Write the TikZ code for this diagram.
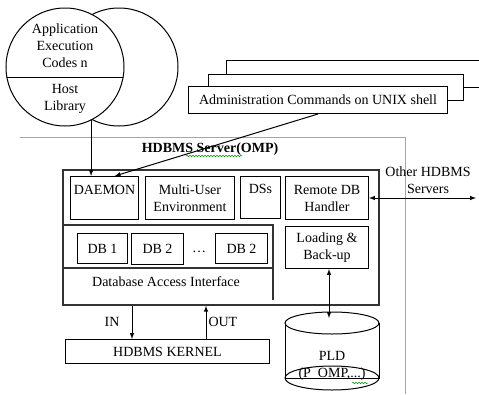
\documentclass[tikz,border=0pt]{standalone}
\usepackage{fontspec}
\setmainfont{Liberation Serif}
\usetikzlibrary{decorations.pathmorphing}

\begin{document}
\begin{tikzpicture}[x=1pt,y=-1pt,>=latex,
    font=\fontsize{14}{17}\selectfont,
    box/.style={draw,line width=1pt,fill=white,inner sep=0pt,align=center,anchor=north west},
    heavy/.style={draw=black!80,line width=1.8pt},
    spell/.style={draw=green!60!black,line width=0.5pt,decorate,
      decoration={snake,amplitude=0.8pt,segment length=3pt}}]
    \useasboundingbox (0,0) rectangle (479,394);
    \clip (0,0) rectangle (479,394);
    % application codes and host library
    \node[circle,draw,line width=1pt,minimum size=118pt] (C0) at (119,67) {};
    \node[circle,draw,line width=1pt,fill=white,minimum size=118pt] (C1) at (65,67) {};
    \begin{scope}
      \clip (65,67) circle (59);
      \draw[line width=1pt] (0,77) -- (130,77);
    \end{scope}
    \node[align=center] (app) at (65,46) {Application\\Execution\\Codes n};
    \node[align=center] (lib) at (65,99) {Host\\Library};
    % shell windows
    \node[box,minimum width=280pt,minimum height=27pt] (A2) at (226,60) {};
    \node[box,minimum width=255pt,minimum height=26pt] (A1) at (208,74) {};
    \node[box,minimum width=259pt,minimum height=27pt] (A0) at (188,86) {Administration Commands on UNIX shell};
    % server zone
    \draw[gray!70,line width=0.8pt] (20,137) -- (405,137) -- (405,394);
    \node[font=\fontsize{14}{17}\selectfont\bfseries] (title) at (210,149) {HDBMS Server(OMP)};
    \draw[spell] (186,156) -- (242,156);
    \node[heavy,minimum width=316pt,minimum height=135pt,inner sep=0pt,anchor=north west] (frame) at (62,169) {};
    \draw[heavy] (frame.west |- 0,225) -- (273,225) -- (273,300);
    \draw[heavy] (frame.west |- 0,268) -- (273,268);
    \node[box,minimum width=68pt,minimum height=43pt] (daemon) at (70,176) {DAEMON\\\mbox{}};
    \node[box,minimum width=89pt,minimum height=43pt] (multi) at (145,176) {Multi-User\\Environment};
    \node[box,minimum width=40pt,minimum height=42pt] (dss) at (240,176) {DSs\\\mbox{}};
    \node[box,minimum width=83pt,minimum height=43pt] (remote) at (285,176) {Remote DB\\Handler};
    \node[box,minimum width=83pt,minimum height=42pt] (load) at (285,226) {Loading \&\\Back-up};
    \node[box,minimum width=50pt,minimum height=30pt] (db1) at (77,233) {DB 1};
    \node[box,minimum width=52pt,minimum height=31pt] (db2) at (131,233) {DB 2};
    \node[box,minimum width=52pt,minimum height=30pt] (dbn) at (215,233) {DB 2};
    \node[anchor=base] (dots) at (199,252) {\dots};
    \node (dai) at (166,282) {Database Access Interface};
    \node[box,minimum width=204pt,minimum height=24pt] (kernel) at (65,339) {HDBMS KERNEL};
    % PLD store
    \draw[line width=1pt,fill=white] (285,323) rectangle (379,378);
    \draw[line width=1pt,fill=white] (332,323) ellipse [x radius=47,y radius=11];
    \draw[line width=1pt] (332,378) ellipse [x radius=47,y radius=12];
    \node[align=center,inner sep=0pt] (pld) at (332,366) {PLD\\(P\_OMP,...)};
    \draw[spell] (352,383) -- (368,383);
    \coordinate (pldtop) at (329,318);
    \coordinate (peer) at (476,198);
    \node[align=center] (other) at (428,180) {Other HDBMS\\Servers};
    % links
    \path (C1.-64) edge [->,line width=1pt] (daemon.north -| C1.-64);
    \path (A0.south) edge [->,line width=1pt] (daemon.65);
    \path (remote.east) edge [<->,line width=1pt] (peer);
    \path (load.south -| pldtop) edge [<->,line width=1pt] (pldtop);
    \path (frame.south -| 132,0) edge [->,line width=1pt] node [left=10pt,inner sep=2pt] {IN} (kernel.north -| 132,0);
    \path (kernel.north -| 206,0) edge [->,line width=1pt] node [right,inner sep=2pt] {OUT} (frame.south -| 206,0);
\end{tikzpicture}
\end{document}
